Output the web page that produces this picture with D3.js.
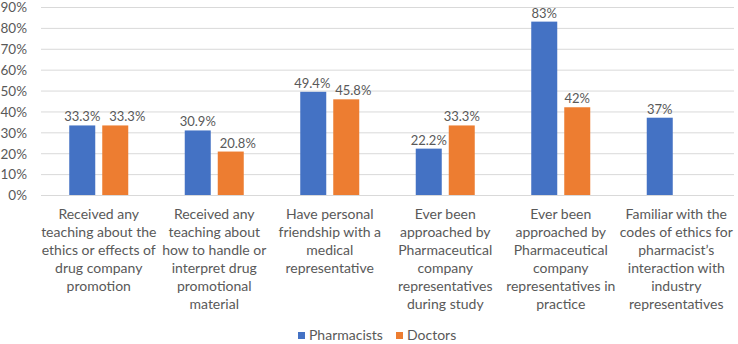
<!DOCTYPE html>
<html><head><meta charset="utf-8">
<script src="https://cdn.jsdelivr.net/npm/d3@7"></script>
<style>body{margin:0;background:#fff;} svg{display:block;font-family:Lato,sans-serif;}</style>
</head><body><svg id="c" width="738" height="344"></svg>
<script>
const categories = [
  ["Received any","teaching about the","ethics or effects of","drug company","promotion"],
  ["Received any","teaching about","how to handle or","interpret drug","promotional","material"],
  ["Have personal","friendship with a","medical","representative"],
  ["Ever been","approached by","Pharmaceutical","company","representatives","during study"],
  ["Ever been","approached by","Pharmaceutical","company","representatives in","practice"],
  ["Familiar with the","codes of ethics for","pharmacist\u2019s","interaction with","industry","representatives"]
];
const seriesNames = ["Pharmacists","Doctors"];
const pharmacists = [33.3, 30.9, 49.4, 22.2, 83, 37];
const doctors = [33.3, 20.8, 45.8, 33.3, 42, null];
const pharmLabels = ["33.3%","30.9%","49.4%","22.2%","83%","37%"];
const docLabels = ["33.3%","20.8%","45.8%","33.3%","42%",""];
const yTicks = [0,10,20,30,40,50,60,70,80,90];
const colors = ["#4472C4","#ED7D31"];

(function(){
const svg = d3.select("#c");
const mL = 41, mR = 734, mT = 7, mB = 195;
const x = d3.scaleBand().domain(d3.range(categories.length)).range([mL,mR]);
const y = d3.scaleLinear().domain([0,90]).range([mB,mT]);
const barW = 26, gap = 7;
const txt = "#595959";
const fs = "14px";
// manual label nudges (as in the source chart), per series / category, in px
const nudge = [[0,0,-1,0,0,0],[12,7,7,0,0,0]];

svg.append("g").selectAll("line").data(yTicks).join("line")
  .attr("x1",mL).attr("x2",mR)
  .attr("y1",d=>y(d)+0.5).attr("y2",d=>y(d)+0.5)
  .attr("stroke","#d9d9d9").attr("stroke-width",1);

const yAxis = d3.axisLeft(y).tickValues(yTicks).tickFormat(d=>d+"%").tickSize(0).tickPadding(14);
const ga = svg.append("g").attr("transform",`translate(${mL},0.5)`).call(yAxis);
ga.select(".domain").remove();
ga.selectAll("text").attr("fill",txt).style("font-size","13.5px").style("font-family","Lato, sans-serif");

const series = [pharmacists, doctors];
const labels = [pharmLabels, docLabels];
series.forEach((vals,s)=>{
  const g = svg.append("g");
  const data = vals.map((v,i)=>({v,i,l:labels[s][i]})).filter(d=>d.v!=null);
  const xpos = d => x(d.i)+x.bandwidth()/2 + (s===0 ? -gap/2-barW : gap/2);
  g.selectAll("rect").data(data).join("rect")
    .attr("x",xpos).attr("width",barW)
    .attr("y",d=>y(d.v)).attr("height",d=>y(0)-y(d.v))
    .attr("fill",colors[s]);
  g.selectAll("text").data(data).join("text")
    .attr("x",d=>xpos(d)+barW/2+nudge[s][d.i]).attr("y",d=>y(d.v)-4)
    .attr("text-anchor","middle").attr("fill",txt).style("font-size","13px")
    .text(d=>d.l);
});

const cg = svg.append("g");
categories.forEach((lines,i)=>{
  const t = cg.append("text").attr("text-anchor","middle").attr("fill",txt).style("font-size",fs);
  lines.forEach((ln,j)=>{
    t.append("tspan").attr("x",x(i)+x.bandwidth()/2).attr("y",219+j*18).text(ln);
  });
});

const leg = svg.append("g");
const legX = [298, 396];
seriesNames.forEach((n,s)=>{
  leg.append("rect").attr("x",legX[s]).attr("y",332).attr("width",7).attr("height",7).attr("fill",colors[s]);
  leg.append("text").attr("x",legX[s]+11).attr("y",340).attr("fill",txt).style("font-size",fs).text(n);
});
})();
</script></body></html>
